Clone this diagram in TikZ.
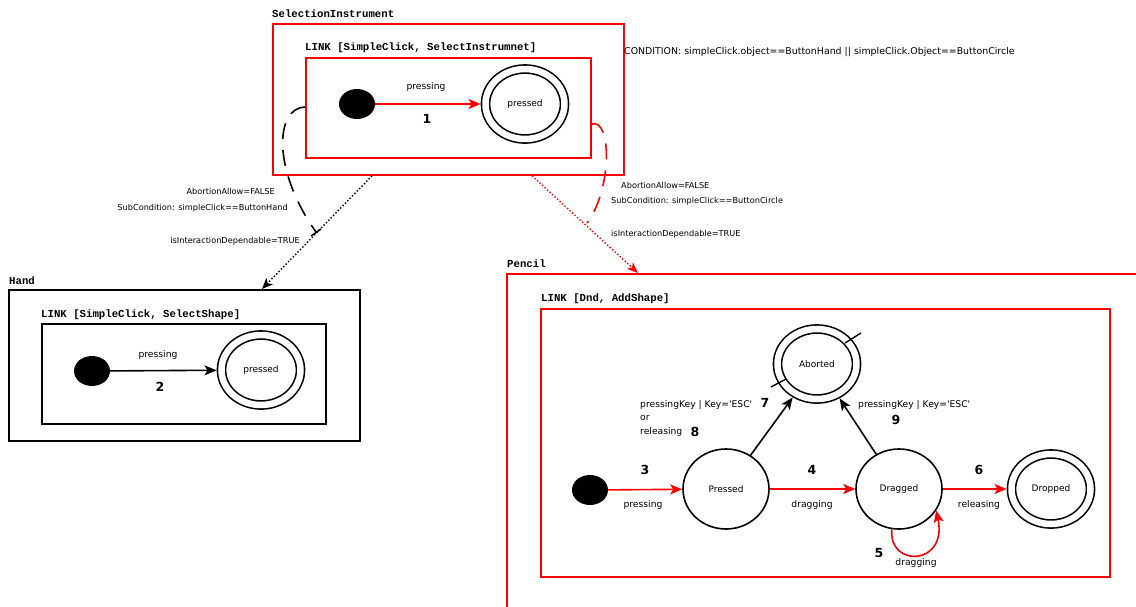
\documentclass[tikz,border=0pt]{standalone}
\usepackage{fontspec}
\setmainfont{DejaVu Sans}
\setmonofont{Liberation Mono}
\usetikzlibrary{arrows.meta,shapes.geometric,calc}
\begin{document}
\begin{tikzpicture}[x=1pt,y=-1pt,
  lbl/.style={font=\fontsize{9.2}{10}\selectfont, inner sep=0pt},
  slbl/.style={font=\fontsize{8.2}{9}\selectfont, inner sep=0pt},
  clbl/.style={font=\fontsize{9.4}{10}\selectfont, inner sep=0pt},
  num/.style={font=\fontsize{12.5}{13}\selectfont\bfseries, inner sep=0pt},
  ttl/.style={font=\fontsize{10.7}{11}\selectfont\ttfamily\bfseries, inner sep=0pt, anchor=west},
  redbox/.style={draw=red, line width=1.8pt, anchor=north west, inner sep=0pt},
  blkbox/.style={draw=black, line width=1.8pt, anchor=north west, inner sep=0pt},
  initst/.style={ellipse, fill=black, minimum width=36pt, minimum height=30pt, inner sep=0pt},
  statest/.style={ellipse, draw, line width=1.6pt, minimum width=86pt, minimum height=80pt, inner sep=0pt, font=\fontsize{9}{10}\selectfont},
  finalst/.style={ellipse, draw, line width=1.6pt, double, double distance=6.5pt, minimum width=79pt, minimum height=70pt, inner sep=0pt, outer sep=5pt, font=\fontsize{9}{10}\selectfont},
  redarr/.style={draw=red, line width=1.6pt, -{Stealth[length=12pt,width=10pt,inset=3pt]}},
  blkarr/.style={draw=black, line width=1.6pt, -{Stealth[length=12pt,width=10pt,inset=3pt]}},
  dotarr/.style={line width=1.4pt, dotted, -{Stealth[length=11pt,width=9pt,inset=3pt]}},
  cutline/.style={line width=1.6pt, dash pattern=on 16pt off 11pt},
]
\useasboundingbox (0,0) rectangle (1136,606);

% ---------- SelectionInstrument ----------
\node[ttl] (tSel) at (272,14) {SelectionInstrument};
\node[redbox, minimum width=351pt, minimum height=151pt] (selOut) at (272,23) {};
\node[ttl] (tLink1) at (305,48) {LINK [SimpleClick, SelectInstrumnet]};
\node[redbox, minimum width=285pt, minimum height=100pt] (selIn) at (305,57) {};
\node[initst] (i1) at (357,104) {};
\node[finalst] (p1) at (525,104) {pressed};
\draw[redarr] (i1) -- (p1);
\node[lbl] (l1) at (426,87) {pressing};
\node[num] (n1) at (427,119) {1};
\node[clbl, anchor=west] (cond) at (624,52) {CONDITION: simpleClick.object==ButtonHand || simpleClick.Object==ButtonCircle};

% ---------- Hand ----------
\node[ttl] (tHand) at (9,281) {Hand};
\node[blkbox, minimum width=351pt, minimum height=151pt] (handOut) at (8,289) {};
\node[ttl] (tLink2) at (41,315) {LINK [SimpleClick, SelectShape]};
\node[blkbox, minimum width=284pt, minimum height=100pt] (handIn) at (41,323) {};
\node[initst] (i2) at (92,371) {};
\node[finalst] (p2) at (261,370) {pressed};
\draw[blkarr] (i2) -- (p2);
\node[lbl] (l2) at (158,355) {pressing};
\node[num] (n2) at (160,387) {2};

% ---------- Pencil ----------
\node[ttl] (tPen) at (507,264) {Pencil};
\node[redbox, minimum width=650pt, minimum height=350pt] (penOut) at (506,273) {};
\node[ttl] (tLink3) at (541,299) {LINK [Dnd, AddShape]};
\node[redbox, minimum width=569pt, minimum height=268pt] (penIn) at (540,308) {};

\node[initst] (i3) at (590,490) {};
\node[statest] (pressed) at (726,489) {Pressed};
\node[statest] (dragged) at (899,489) {Dragged};
\node[finalst] (dropped) at (1051,489) {Dropped};
\node[finalst] (aborted) at (817,364) {Aborted};

\draw[redarr] (i3) -- (pressed);
\draw[redarr] (pressed) -- (dragged);
\draw[redarr] (dragged) -- (dropped);
\draw[redarr] (dragged.-100) .. controls (888,568) and (948,566) .. (dragged.-30);
\draw[blkarr] (pressed) -- (aborted);
\draw[blkarr] (dragged) -- (aborted);

\draw[line width=1.4pt] ($(aborted)+(-46,23)$) coordinate (ab1) -- ($(aborted)+(-31,15)$) coordinate (ab2);
\draw[line width=1.4pt] ($(aborted)+(28,-21)$) coordinate (ab3) -- ($(aborted)+(44,-31)$) coordinate (ab4);

\node[num] (n3) at (645,470) {3};
\node[lbl] (l3) at (643,505) {pressing};
\node[num] (n4) at (812,470) {4};
\node[lbl] (l4) at (812,505) {dragging};
\node[num] (n6) at (979,470) {6};
\node[lbl] (l6) at (979,505) {releasing};
\node[num] (n5) at (879,553) {5};
\node[lbl] (l5) at (916,563) {dragging};

\node[lbl, anchor=west] (l7) at (640,405) {pressingKey | Key=\textquotesingle ESC\textquotesingle};
\node[lbl, anchor=west] (l7b) at (640,418) {or};
\node[lbl, anchor=west] (l8) at (640,432) {releasing};
\node[num] (n7) at (765,403) {7};
\node[num] (n8) at (695,432) {8};
\node[lbl, anchor=west] (l9) at (858,405) {pressingKey | Key=\textquotesingle ESC\textquotesingle};
\node[num] (n9) at (896,420) {9};

% ---------- inter-instrument links ----------
\coordinate (d1s) at ($(selOut.south west)+(100,0)$);
\coordinate (d1e) at ($(handOut.north west)+(254,0)$);
\coordinate (d2s) at ($(selOut.south west)+(260,0)$);
\coordinate (d2e) at ($(penOut.north west)+(132,0)$);
\draw[dotarr] (d1s) -- (d1e);
\draw[dotarr, red] (d2s) -- (d2e);

\coordinate (c1s) at ($(selIn.north west)+(0,50)$);
\coordinate (c1e) at (316,232);
\draw[cutline] (c1s) .. controls (275,108) and (272,170) .. (c1e);
\draw[line width=1.5pt] (311,236) -- (321,229);
\coordinate (c2s) at ($(selIn.north east)+(0,67)$);
\coordinate (c2e) at (587,223);
\draw[cutline, red] (c2s) .. controls (612,118) and (612,190) .. (c2e);

\node[slbl, anchor=east] (a1) at (275,191) {AbortionAllow=FALSE};
\node[slbl, anchor=east] (s1) at (288,208) {SubCondition: simpleClick==ButtonHand};
\node[slbl, anchor=east] (d1) at (300,241) {isInteractionDependable=TRUE};
\node[slbl, anchor=west] (a2) at (621,185) {AbortionAllow=FALSE};
\node[slbl, anchor=west] (s2) at (611,201) {SubCondition: simpleClick==ButtonCircle};
\node[slbl, anchor=west] (d2) at (611,234) {isInteractionDependable=TRUE};
\end{tikzpicture}
\end{document}
